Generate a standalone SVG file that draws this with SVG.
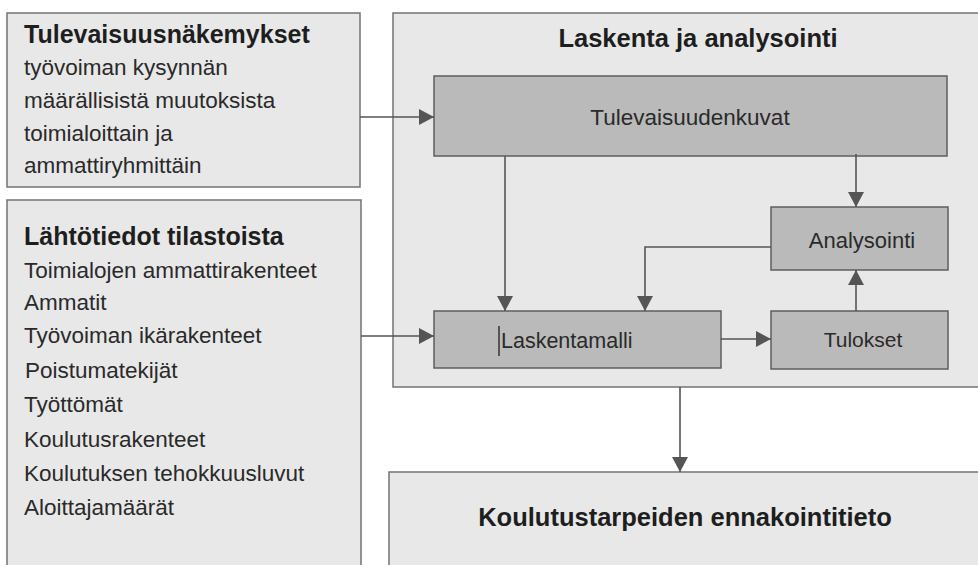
<svg xmlns="http://www.w3.org/2000/svg" width="978" height="565" viewBox="0 0 978 565">
<style>
.outer{fill:#e8e8e8;stroke:#737373;stroke-width:1.5}
.inner{fill:#bababa;stroke:#5e5e5e;stroke-width:1.5}
.h{font-family:"Liberation Sans",Arial,sans-serif;font-weight:bold;fill:#1e1e1e}
.t{font-family:"Liberation Sans",Arial,sans-serif;fill:#2a2a2a}
.c{fill:none;stroke:#555;stroke-width:1.6}
</style>
<defs>
<marker id="ah" markerUnits="userSpaceOnUse" markerWidth="16" markerHeight="17" refX="15" refY="8" orient="auto">
<path d="M0,0 L15,8 L0,16 Z" fill="#555"/>
</marker>
</defs>
<rect width="978" height="565" fill="#fff"/>
<g id="tulevaisuusnakemykset">
<rect class="outer" x="7" y="13" width="353" height="174"/>
<text class="h" x="24" y="43" font-size="25">Tulevaisuusnäkemykset</text>
<text class="t" font-size="22.5"><tspan x="24" y="75">työvoiman kysynnän</tspan><tspan x="24" y="108">määrällisistä muutoksista</tspan><tspan x="24" y="141">toimialoittain ja</tspan><tspan x="24" y="173">ammattiryhmittäin</tspan></text>
</g>
<g id="lahtotiedot">
<rect class="outer" x="7" y="200" width="354" height="380"/>
<text class="h" x="24" y="245" font-size="25">Lähtötiedot tilastoista</text>
<text class="t" font-size="22.5"><tspan x="24" y="278">Toimialojen ammattirakenteet</tspan><tspan x="24" y="310">Ammatit</tspan><tspan x="24" y="343">Työvoiman ikärakenteet</tspan><tspan x="25" y="378">Poistumatekijät</tspan><tspan x="24" y="412">Työttömät</tspan><tspan x="24" y="447">Koulutusrakenteet</tspan><tspan x="24" y="481">Koulutuksen tehokkuusluvut</tspan><tspan x="24" y="515">Aloittajamäärät</tspan></text>
</g>
<g id="laskenta">
<rect class="outer" x="393" y="13" width="600" height="374"/>
<text class="h" x="698" y="47" font-size="25.5" text-anchor="middle">Laskenta ja analysointi</text>
</g>
<g id="tulevaisuudenkuvat">
<rect class="inner" x="434" y="76" width="513" height="80"/>
<text class="t" x="690" y="125" font-size="22.5" text-anchor="middle">Tulevaisuudenkuvat</text>
</g>
<g id="analysointi">
<rect class="inner" x="771" y="207" width="177" height="63"/>
<text class="t" x="862" y="248" font-size="22" text-anchor="middle">Analysointi</text>
</g>
<g id="laskentamalli">
<rect class="inner" x="434" y="311" width="287" height="57"/>
<line x1="499" y1="326" x2="499" y2="356" stroke="#333" stroke-width="1.5"/>
<text class="t" x="501" y="348" font-size="21.5">Laskentamalli</text>
</g>
<g id="tulokset">
<rect class="inner" x="771" y="311" width="177" height="58"/>
<text class="t" x="863" y="347" font-size="21" text-anchor="middle">Tulokset</text>
</g>
<g id="koulutustarpeiden">
<rect class="outer" x="389" y="472" width="610" height="110"/>
<text class="h" x="685" y="526" font-size="25.5" text-anchor="middle">Koulutustarpeiden ennakointitieto</text>
</g>
<g id="connectors">
<path class="c" d="M360,117 H434" marker-end="url(#ah)"/>
<path class="c" d="M361,336 H434" marker-end="url(#ah)"/>
<path class="c" d="M505,156 V311" marker-end="url(#ah)"/>
<path class="c" d="M856,154 V207" marker-end="url(#ah)"/>
<path class="c" d="M771,247 H645 V311" marker-end="url(#ah)"/>
<path class="c" d="M721,339 H771" marker-end="url(#ah)"/>
<path class="c" d="M856,311 V270" marker-end="url(#ah)"/>
<path class="c" d="M680,387 V472" marker-end="url(#ah)"/>
</g>
</svg>
